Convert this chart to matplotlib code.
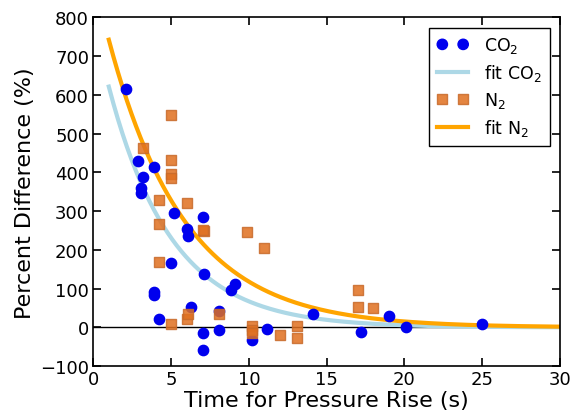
import numpy as np
import matplotlib
matplotlib.use('Agg')
import matplotlib.pyplot as plt

# CO2 measurements: time for pressure rise (s), percent difference (%)
co2_t = [2.1, 2.9, 3.1, 3.1, 3.2, 3.9, 3.9, 3.9, 4.2, 5.0, 5.2, 6.0, 6.1, 6.3,
         7.05, 7.05, 7.05, 7.1, 8.1, 8.1, 8.85, 9.1, 10.2, 11.2, 14.1, 17.2,
         19.0, 20.1, 25.0]
co2_pd = [615, 428, 360, 347, 388, 415, 92, 84, 22, 166, 296, 254, 236, 53,
          285, -15, -59, 138, 42, -7, 97, 112, -33, -3, 35, -12, 29, 1, 9]

# N2 measurements
n2_t = [3.2, 4.2, 4.2, 4.2, 5.0, 5.0, 5.0, 5.0, 5.0, 6.0, 6.0, 6.1, 7.1, 7.05,
        8.1, 9.9, 10.2, 10.2, 10.2, 10.95, 12.0, 13.1, 13.1, 17.0, 17.0, 18.0]
n2_pd = [464, 329, 267, 169, 547, 433, 396, 386, 9, 321, 22, 35, 249, 252,
         35, 247, 3, -7, -15, 205, -20, 3, -28, 97, 53, 50]

# exponential fit parameters  y = A * exp(-t / tau)
co2_fit_A, co2_fit_tau = 795, 4.05
n2_fit_A, n2_fit_tau = 910, 4.9

t_fit = np.linspace(1, 30, 300)

fig = plt.figure(figsize=(5.72, 4.14), dpi=100)
ax = fig.add_axes([0.163, 0.113, 0.816, 0.843])

ax.axhline(0, color='black', lw=1, zorder=1)

ax.scatter(co2_t, co2_pd, s=55, marker='o', color='#0000ee', edgecolors='#0000ee',
           label='CO$_2$', zorder=3)
ax.plot(t_fit, co2_fit_A * np.exp(-t_fit / co2_fit_tau), color='#add8e6', lw=3,
        label='fit CO$_2$', zorder=2)
ax.scatter(n2_t, n2_pd, s=50, marker='s', color='#e07020', edgecolors='#c86a2a',
           alpha=0.85, label='N$_2$', zorder=4)
ax.plot(t_fit, n2_fit_A * np.exp(-t_fit / n2_fit_tau), color='#ffa500', lw=3,
        label='fit N$_2$', zorder=2)

ax.set_xlim(0, 30)
ax.set_ylim(-100, 800)
ax.set_xticks(np.arange(0, 31, 5))
ax.set_yticks(np.arange(-100, 801, 100))
ax.tick_params(direction='in', top=True, right=True, length=6, width=1.2,
               labelsize=13, pad=3)
for sp in ax.spines.values():
    sp.set_linewidth(1.2)

ax.set_xlabel('Time for Pressure Rise (s)', fontsize=16, labelpad=1)
ax.set_ylabel('Percent Difference (%)', fontsize=16, labelpad=4)

leg = ax.legend(loc='upper right', scatterpoints=2, scatteryoffsets=[0.5],
                fancybox=False, fontsize=12.5, edgecolor='black', framealpha=1,
                handlelength=1.8, handletextpad=0.9, borderpad=0.45,
                labelspacing=0.4, borderaxespad=0.6)
leg.get_frame().set_linewidth(1.0)

fig.savefig('out.png', dpi=100)
